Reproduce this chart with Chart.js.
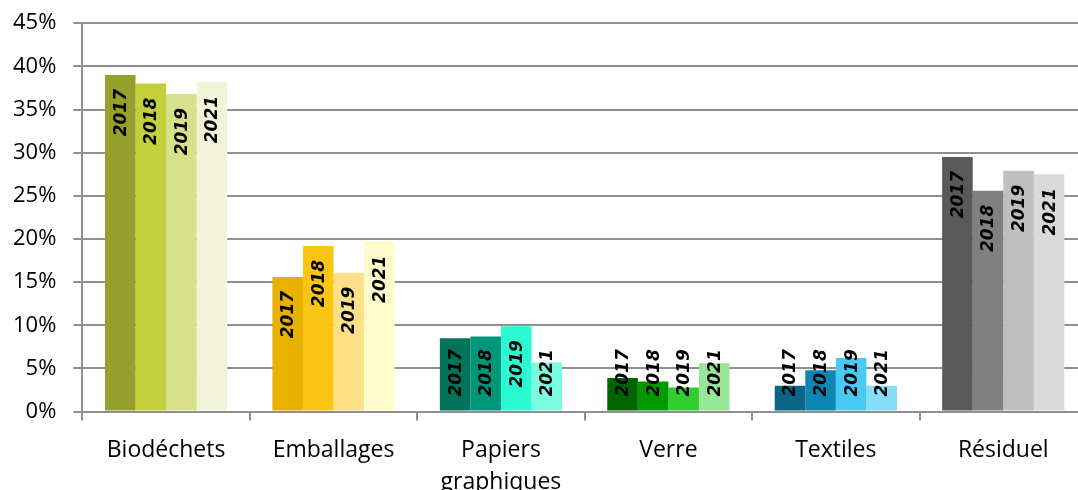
<!DOCTYPE html>
<html lang="fr">

<head>
  <meta charset="UTF-8">
  <title>Composition des déchets</title>
  <style>
    html, body {
      margin: 0;
      padding: 0;
      background: #fff;
      overflow: hidden;
    }

    #wasteChart {
      display: block;
      margin-left: -16px;
      margin-top: -7px;
    }
  </style>
</head>

<body>
  <canvas id="wasteChart" width="1103" height="520"></canvas>

  <script src="https://cdn.jsdelivr.net/npm/chart.js"></script>
  <script>
    // categories and values (% per year)
    const categories = ['Biodéchets', 'Emballages', ['Papiers', 'graphiques'], 'Verre', 'Textiles', 'Résiduel'];
    const years = ['2017', '2018', '2019', '2021'];

    const values2017 = [39.0, 15.6, 8.5, 3.9, 3.0, 29.5];
    const values2018 = [38.0, 19.2, 8.7, 3.5, 4.8, 25.6];
    const values2019 = [36.8, 16.1, 9.9, 2.8, 6.2, 27.9];
    const values2021 = [38.2, 19.7, 5.7, 5.6, 3.0, 27.5];

    // one colour per category, per year
    const colors2017 = ['#96a02c', '#e8b100', '#00735a', '#006400', '#0a6587', '#595959'];
    const colors2018 = ['#c3cf3b', '#fcc413', '#00967a', '#009a00', '#0e86b3', '#808080'];
    const colors2019 = ['#d8e08a', '#fee087', '#2afad2', '#32cd32', '#48caf4', '#bfbfbf'];
    const colors2021 = ['#f1f4d9', '#fffccc', '#7bfce0', '#98e698', '#87dcf9', '#d9d9d9'];

    const yTicks = [0, 5, 10, 15, 20, 25, 30, 35, 40, 45];

    const gridColor = '#8f8f8f';

    // year written vertically inside the top of each bar
    const yearLabels = {
      id: 'yearLabels',
      afterDatasetsDraw(chart) {
        const ctx = chart.ctx;
        ctx.save();
        ctx.font = 'italic bold 17px "DejaVu Sans"';
        ctx.fillStyle = '#000';
        ctx.textAlign = 'left';
        ctx.textBaseline = 'middle';
        chart.data.datasets.forEach((ds, i) => {
          const meta = chart.getDatasetMeta(i);
          meta.data.forEach(bar => {
            const w = ctx.measureText(ds.label).width;
            let top = Math.min(bar.y + 14, bar.base - 14 - w);
            ctx.save();
            ctx.translate(bar.x, top + w);
            ctx.rotate(-Math.PI / 2);
            ctx.fillText(ds.label, 0, 1);
            ctx.restore();
          });
        });
        ctx.restore();
      }
    };

    const ctx = document.getElementById('wasteChart').getContext('2d');
    new Chart(ctx, {
      type: 'bar',
      data: {
        labels: categories,
        datasets: [
          { label: years[0], data: values2017, backgroundColor: colors2017 },
          { label: years[1], data: values2018, backgroundColor: colors2018 },
          { label: years[2], data: values2019, backgroundColor: colors2019 },
          { label: years[3], data: values2021, backgroundColor: colors2021 }
        ]
      },
      options: {
        responsive: false,
        animation: false,
        layout: {
          padding: { left: 12, top: 4, right: 0, bottom: 0 }
        },
        datasets: {
          bar: {
            barPercentage: 1.0,
            categoryPercentage: 0.73,
            borderWidth: 0
          }
        },
        plugins: {
          legend: { display: false },
          tooltip: { enabled: false }
        },
        scales: {
          x: {
            grid: {
              offset: true,
              drawOnChartArea: false,
              drawTicks: true,
              tickLength: 9,
              color: gridColor,
              lineWidth: 2
            },
            border: { color: gridColor, width: 2 },
            ticks: {
              color: '#000',
              padding: 14,
              maxRotation: 0,
              autoSkip: false,
              font: { family: '"Open Sans"', size: 23, lineHeight: 1.4 }
            }
          },
          y: {
            min: 0,
            max: 45,
            afterBuildTicks: axis => {
              axis.ticks = yTicks.map(v => ({ value: v }));
            },
            grid: {
              color: gridColor,
              lineWidth: 2,
              tickLength: 9
            },
            border: { color: gridColor, width: 2 },
            ticks: {
              color: '#000',
              padding: 17,
              font: { family: '"Open Sans"', size: 22 },
              callback: v => v + '%'
            }
          }
        }
      },
      plugins: [yearLabels]
    });
  </script>
</body>

</html>
